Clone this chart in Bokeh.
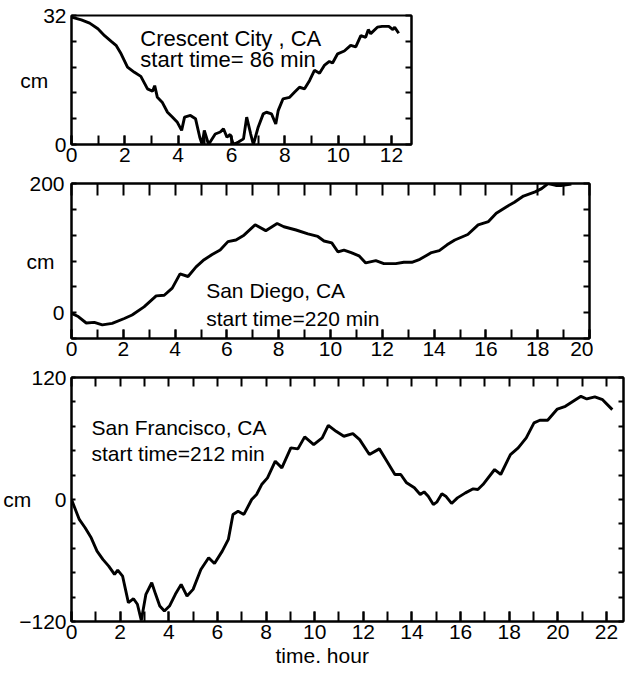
from bokeh.plotting import figure
from bokeh.models import Range1d, LinearAxis, FixedTicker, SingleIntervalTicker, Label, Title
from bokeh.layouts import column
from bokeh.embed import file_html
from bokeh.resources import INLINE

FONT = "Liberation Sans"

# ---------------- data ----------------
cc_t = [0, 0.37, 0.68, 0.99, 1.24, 1.49, 1.67, 1.86, 2.1, 2.36, 2.6, 2.85, 3.04, 3.12, 3.22,
        3.4, 3.6, 3.78, 3.97, 4.13, 4.24, 4.46, 4.65, 4.81, 4.9, 4.98, 5.14, 5.39, 5.58, 5.7,
        5.83, 5.95, 6.07, 6.26, 6.45, 6.57, 6.72, 6.82, 7.0, 7.19, 7.31, 7.5, 7.66, 7.75, 7.93,
        8.18, 8.37, 8.55, 8.74, 8.93, 9.11, 9.3, 9.48, 9.67, 9.79, 9.98, 10.23, 10.47, 10.66,
        10.85, 11.03, 11.13, 11.22, 11.47, 11.65, 11.9, 12.05, 12.12, 12.27]
cc_cm = [31.6, 30.9, 30.1, 28.7, 27.0, 25.6, 24.6, 22.5, 19.2, 17.9, 16.9, 13.8, 13.2, 14.6, 11.7,
         10.5, 8.0, 6.8, 5.5, 3.5, 6.8, 7.2, 6.4, 1.8, 0.0, 3.5, 0.0, 2.6, 3.1, 3.9,
         1.8, 2.5, 0.0, 0.6, 1.4, 6.8, 2.6, 0.0, 4.3, 7.6, 8.0, 7.6, 5.1, 8.4, 11.3,
         11.7, 13.0, 14.2, 13.8, 15.9, 18.4, 17.7, 19.6, 20.6, 20.2, 22.5, 23.2, 24.6, 24.2,
         27.0, 26.6, 28.5, 27.5, 29.1, 29.3, 29.3, 28.5, 29.1, 27.6]

sd_t = [0, 0.26, 0.57, 0.88, 1.19, 1.57, 2.04, 2.34, 2.8, 3.27, 3.58, 3.89, 4.19, 4.5, 4.81,
        5.12, 5.43, 5.74, 6.04, 6.35, 6.66, 7.09, 7.5, 7.94, 8.2, 8.67, 9.13, 9.51, 9.75, 10.05,
        10.29, 10.52, 10.8, 11.1, 11.36, 11.75, 12.06, 12.52, 12.83, 13.14, 13.45, 13.9, 14.2,
        14.5, 14.8, 15.3, 15.7, 16.1, 16.4, 16.8, 17.1, 17.45, 17.9, 18.15, 18.4, 18.7, 18.9, 19.3]
sd_cm = [-1, -6, -16, -15, -19, -16.5, -9, -3.6, 9, 26, 27, 38, 60, 56, 71,
         82, 90, 97, 110, 112.5, 120, 136, 127, 138, 133, 128, 122, 118, 111, 108,
         94, 97, 93, 88, 77, 80.5, 76, 76, 78, 78, 82.6, 93, 96,
         105, 112.5, 121, 136, 141, 154, 164, 171, 180.6, 187, 192, 200, 197, 197, 199]

sf_t = [0, 0.16, 0.32, 0.56, 0.81, 1.05, 1.29, 1.53, 1.77, 1.9, 2.1, 2.22, 2.34, 2.55, 2.71,
        2.87, 3.06, 3.3, 3.46, 3.63, 3.82, 4.03, 4.27, 4.51, 4.75, 5.0, 5.32, 5.64, 5.88, 6.2,
        6.45, 6.64, 6.85, 7.09, 7.41, 7.61, 7.82, 8.06, 8.38, 8.65, 9.02, 9.31, 9.59, 9.96, 10.31,
        10.56, 10.88, 11.2, 11.57, 11.85, 12.25, 12.66, 12.97, 13.3, 13.54, 13.78, 14.1, 14.34,
        14.5, 14.67, 14.88, 15.02, 15.23, 15.39, 15.63, 15.87, 16.2, 16.52, 16.71, 16.92, 17.4,
        17.65, 18.05, 18.37, 18.7, 19.02, 19.26, 19.58, 19.98, 20.31, 20.63, 20.95, 21.19, 21.52,
        21.84, 22.24]
sf_cm = [0, -9.8, -19.6, -27.8, -37.7, -50.8, -58.9, -65.5, -73.7, -69.4, -75.3, -88.4, -101.5,
         -97.6, -103, -119, -93.3, -81.9, -93.3, -104.8, -109.7, -104.8, -93.3, -83.5, -95, -88.4,
         -68.8, -57.3, -62.9, -50.8, -39.3, -14.7, -11.5, -14.7, 0, 4.9, 14.7, 21.3, 37.7, 31.1,
         50.8, 49.8, 61.6, 54, 60.6, 73, 67.1, 62.2, 64.8, 58.9, 44.2, 49.8, 37.7, 24.6, 24.6,
         16.4, 11.5, 4.9, 7.5, 3.3, -4.9, -2.6, 5.6, 3.3, -3.9, 1.6, 6.5, 10.5, 9.8, 14.7,
         29.5, 24.6, 44.2, 50.8, 60.6, 75.3, 77.9, 77.9, 89, 91.7, 96.6, 101.5, 98.9, 100.9,
         98.2, 88.4]

cc_yticks = [0, 32]
cc_yminor = [6.4, 12.8, 19.2, 25.6]
sd_yticks = [0, 200]
sd_yminor = [-40, 40, 80, 120, 160]
sf_yticks = [-120, 0, 120]
sf_yminor = [-96, -72, -48, -24, 24, 48, 72, 96]

cc_title = ["Crescent City , CA", "start time= 86 min"]
sd_title = ["San Diego, CA", "start time=220 min"]
sf_title = ["San Francisco, CA", "start time=212 min"]
x_title = "time. hour"
y_title = "cm"


def make_fig(width, height, left, right, top, bottom, xr, yr):
    p = figure(width=width, height=height,
               x_range=Range1d(*xr), y_range=Range1d(*yr),
               output_backend="svg", toolbar_location=None, tools="",
               min_border_left=left, min_border_right=right,
               min_border_top=top, min_border_bottom=bottom,
               x_axis_location=None, y_axis_location=None)
    p.grid.visible = False
    p.outline_line_color = "black"
    p.outline_line_width = 2
    p.background_fill_color = "white"
    p.border_fill_color = "white"
    return p


def style_axis(ax, tick_in, show_labels=True, standoff=5, size="21px"):
    ax.axis_line_color = "black"
    ax.axis_line_width = 2
    ax.major_tick_in = tick_in
    ax.major_tick_out = 0
    ax.minor_tick_in = tick_in
    ax.minor_tick_out = 0
    ax.major_tick_line_color = "black"
    ax.minor_tick_line_color = "black"
    ax.major_tick_line_width = 2
    ax.minor_tick_line_width = 2
    ax.major_label_text_font = FONT
    ax.major_label_text_color = "black"
    ax.major_label_text_font_size = size
    ax.major_label_standoff = standoff
    if not show_labels:
        ax.major_label_text_font_size = "0px"
        ax.major_label_standoff = 0
    return ax


def add_axes(p, yticks, yminor, bottom_in, top_in, left_in, right_in,
             xstandoff, ystandoff, cm_standoff, top=True):
    b = LinearAxis(ticker=SingleIntervalTicker(interval=2, num_minor_ticks=2))
    style_axis(b, bottom_in, standoff=xstandoff)
    p.add_layout(b, "below")
    if top:
        t = LinearAxis(ticker=SingleIntervalTicker(interval=1, num_minor_ticks=0))
        style_axis(t, top_in, show_labels=False)
        p.add_layout(t, "above")
    l = LinearAxis(ticker=FixedTicker(ticks=yticks, minor_ticks=yminor))
    style_axis(l, left_in, standoff=ystandoff)
    l.axis_label = y_title
    l.axis_label_orientation = "horizontal"
    l.axis_label_text_font = FONT
    l.axis_label_text_font_size = "21px"
    l.axis_label_text_font_style = "normal"
    l.axis_label_text_color = "black"
    l.axis_label_standoff = cm_standoff
    p.add_layout(l, "left")
    r = LinearAxis(ticker=FixedTicker(ticks=sorted(yminor + yticks)))
    style_axis(r, right_in, show_labels=False)
    p.add_layout(r, "right")
    return b


def add_text(p, lines, x, y1, y2, size="21px"):
    for txt, yy in zip(lines, [y1, y2]):
        p.add_layout(Label(x=x, y=yy, text=txt, text_font=FONT, text_font_size=size,
                           text_color="black", text_align="left", text_baseline="alphabetic"))


LW = 2.9

# ---------------- panel 1 ----------------
p1 = make_fig(415, 171, 70, 4, 15, 27, (0, 12.75), (0, 32))
add_axes(p1, cc_yticks, cc_yminor, 9, 0, 5, 6, 3, 5, -8, top=False)
p1.line(cc_t, cc_cm, line_color="black", line_width=LW)
add_text(p1, cc_title, 2.58, 26.2, 21.0, size="22px")

# ---------------- panel 2 ----------------
p2 = make_fig(593, 194, 68, 4, 12, 27, (0, 20), (-40, 200))
add_axes(p2, sd_yticks, sd_yminor, 9, 12, 5, 6, 3, 7, -28)
p2.line(sd_t, sd_cm, line_color="black", line_width=LW)
add_text(p2, sd_title, 5.2, 34, -9.5)

# ---------------- panel 3 ----------------
p3 = make_fig(627, 306, 65, 2, 12, 50, (0, 22.7), (-120, 120))
add_axes(p3, sf_yticks, sf_yminor, 10, 9, 4, 5, 3, 5, -15)
p3.line(sf_t, sf_cm, line_color="black", line_width=LW)
add_text(p3, sf_title, 0.82, 71, 45.5)
xt = Title(text=x_title, align="left", offset=204, standoff=0,
           text_font=FONT, text_font_size="21px", text_font_style="normal",
           text_color="black")
p3.add_layout(xt, "below")

layout = column(p1, p2, p3, spacing=0)

open("out.html", "w").write(file_html(layout, INLINE))
